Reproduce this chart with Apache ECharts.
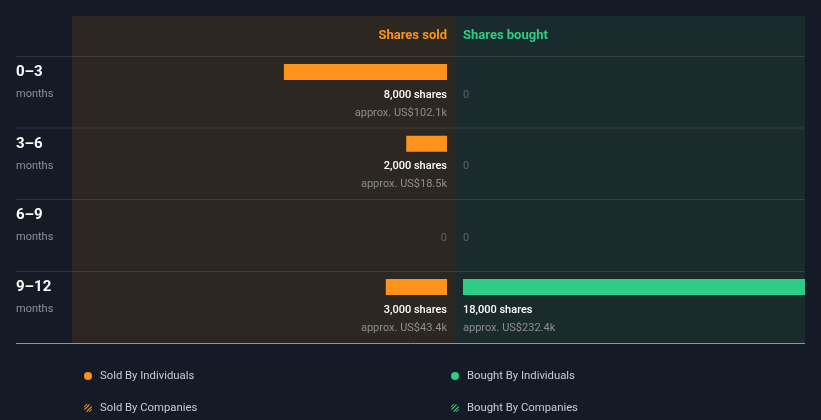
<!DOCTYPE html>
<html><head><meta charset="utf-8">
<script src="https://cdn.jsdelivr.net/npm/echarts@6/dist/echarts.min.js"></script>
<style>html,body{margin:0;padding:0;background:#151b26}#c{width:821px;height:420px}</style>
</head><body><div id="c"></div>
<script>
var periods = ['0–3', '3–6', '6–9', '9–12'];
var soldShares = [8000, 2000, 0, 3000];
var soldUsdK = [102.1, 18.5, 0, 43.4];
var boughtShares = [0, 0, 0, 18000];
var boughtUsdK = [0, 0, 0, 232.4];
var axisMax = 18000;
var legendNames = ['Sold By Individuals', 'Sold By Companies', 'Bought By Individuals', 'Bought By Companies'];

var ORANGE = '#fd931a', GREEN = '#2ecc84';
var FONT = 'Roboto';

function fmt(n){ return n.toLocaleString('en-US'); }

function makeRender(side){
  return function(params, api){
    var v = api.value(0), idx = api.value(1), usd = api.value(2);
    var c0 = api.coord([0, idx]);
    var c1 = api.coord([v, idx]);
    var band = api.size([0, 1])[1];
    var top = c0[1] - band / 2;
    var align = side === 'sold' ? 'right' : 'left';
    var children = [];
    if (v > 0) {
      children.push({type:'rect', shape:{x:Math.min(c0[0], c1[0]), y:top + 7.5, width:Math.abs(c1[0] - c0[0]), height:16},
        style:{fill: side === 'sold' ? ORANGE : GREEN}});
      children.push({type:'text', style:{x:c0[0], y:top + 38.5, text: fmt(v) + ' shares', align:align, verticalAlign:'middle',
        fill:'#ffffff', font:'500 11px ' + FONT}});
      children.push({type:'text', style:{x:c0[0], y:top + 56.5, text:'approx. US$' + usd.toFixed(1) + 'k', align:align, verticalAlign:'middle',
        fill:'#8e8e8e', font:'11px ' + FONT}});
    } else {
      children.push({type:'text', style:{x:c0[0], y:top + 38.5, text:'0', align:align, verticalAlign:'middle',
        fill:'#5d6266', font:'11px ' + FONT}});
    }
    return {type:'group', children:children};
  };
}

var soldData = periods.map(function(p, i){ return [soldShares[i], i, soldUsdK[i]]; });
var boughtData = periods.map(function(p, i){ return [boughtShares[i], i, boughtUsdK[i]]; });

var sepYs = [56.5, 128, 199.5, 271.5];
var graphics = [
  {type:'rect', shape:{x:72, y:16, width:383, height:327}, style:{fill:'#2c2721'}, z:-10, silent:true},
  {type:'rect', shape:{x:455, y:16, width:350, height:327}, style:{fill:'#1a2b2e'}, z:-10, silent:true},
  {type:'line', shape:{x1:16, y1:343.5, x2:805, y2:343.5}, style:{stroke:'#8f959c', lineWidth:1}, z:-5, silent:true}
];
sepYs.forEach(function(y){
  graphics.push({type:'line', shape:{x1:16, y1:y, x2:805, y2:y}, style:{stroke:'rgba(255,255,255,0.1)', lineWidth:1}, z:-5, silent:true});
});

var stripe = 'path://M0.3,6.2L6.2,0.3L7.6,1L1,7.6Z M2.4,9.4L9.4,2.4L9.8,4.2L4.2,9.8Z M0,3.2L3.2,0L4.4,0.2L0.2,4.4Z M5.6,10L10,5.6L9.6,7.4L7.4,9.6Z';
var legendPos = [[79, 364], [79, 396], [446, 364], [446, 396]];
var legends = legendNames.map(function(n, i){
  return {left:legendPos[i][0], top:legendPos[i][1], itemWidth:8, itemHeight:8, selectedMode:false,
    textStyle:{color:'#c9ccd1', fontSize:11.3, fontFamily:FONT, lineHeight:14, padding:[0,0,0,3]},
    data:[{name:n, icon: i % 2 === 0 ? 'circle' : stripe}]};
});

var option = {
  backgroundColor:'#151b26',
  animation:false,
  title:[
    {text:'Shares sold', right:374, top:29, padding:0, textStyle:{color:ORANGE, fontSize:13, fontWeight:'bold', fontFamily:FONT}},
    {text:'Shares bought', left:463, top:29, padding:0, textStyle:{color:GREEN, fontSize:13, fontWeight:'bold', fontFamily:FONT}}
  ],
  grid:[
    {left:80, right:374, top:56.5, bottom:77},
    {left:463, right:16, top:56.5, bottom:77}
  ],
  xAxis:[
    {gridIndex:0, type:'value', min:0, max:axisMax, inverse:true, show:false},
    {gridIndex:1, type:'value', min:0, max:axisMax, show:false}
  ],
  yAxis:[
    {gridIndex:0, type:'category', data:periods, inverse:true, position:'left',
     axisLine:{show:false}, axisTick:{show:false}, splitLine:{show:false},
     axisLabel:{show:true, align:'left', margin:64, padding:[0,0,18,0],
       formatter:function(v){ return '{a|' + v + '}\n{b|months}'; },
       rich:{a:{fontSize:15, fontWeight:'bold', color:'#ffffff', lineHeight:22, fontFamily:FONT},
             b:{fontSize:11, color:'#8b9096', lineHeight:22, fontFamily:FONT}}}},
    {gridIndex:1, type:'category', data:periods, inverse:true, show:false}
  ],
  legend:legends,
  graphic:graphics,
  series:[
    {name:legendNames[0], type:'custom', xAxisIndex:0, yAxisIndex:0, data:soldData,
     encode:{x:0, y:1}, renderItem:makeRender('sold'), itemStyle:{color:ORANGE}},
    {name:legendNames[1], type:'custom', xAxisIndex:0, yAxisIndex:0, data:[],
     renderItem:function(){ return null; }, itemStyle:{color:ORANGE}},
    {name:legendNames[2], type:'custom', xAxisIndex:1, yAxisIndex:1, data:boughtData,
     encode:{x:0, y:1}, renderItem:makeRender('bought'), itemStyle:{color:GREEN}},
    {name:legendNames[3], type:'custom', xAxisIndex:1, yAxisIndex:1, data:[],
     renderItem:function(){ return null; }, itemStyle:{color:GREEN}}
  ]
};
var chart = echarts.init(document.getElementById('c'), null, {renderer:'canvas'});
chart.setOption(option);
</script>
</body></html>
